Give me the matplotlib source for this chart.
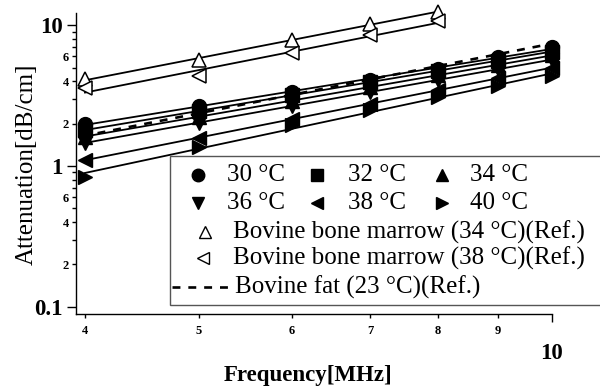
import numpy as np
import matplotlib
matplotlib.use("Agg")
import matplotlib.pyplot as plt
from matplotlib.lines import Line2D
from matplotlib.patches import Rectangle

plt.rcParams['font.family'] = ['Liberation Serif', 'DejaVu Serif']

# measured attenuation [dB/cm] vs frequency [MHz]
freq = [4, 5, 6, 7, 8, 9, 10]
att_30 = [1.99, 2.66, 3.38, 4.05, 4.90, 5.90, 7.00]
att_32 = [1.80, 2.46, 3.18, 3.94, 4.75, 5.60, 6.50]
att_34 = [1.62, 2.24, 2.91, 3.64, 4.42, 5.23, 6.10]
att_36 = [1.46, 2.03, 2.67, 3.35, 4.09, 4.87, 5.70]
att_38 = [1.10, 1.59, 2.15, 2.77, 3.46, 4.19, 5.00]
att_40 = [0.835, 1.36, 1.95, 2.50, 3.09, 3.69, 4.35]

# reference data
marrow_freq = [4, 5, 6, 7, 8]
marrow_34 = [4.15, 5.64, 7.83, 10.2, 12.5]
marrow_38 = [3.57, 4.35, 6.33, 8.5, 10.7]
fat_freq = [4.1, 10.0]
fat_att = [1.71, 7.4]

temps = ['30 °C', '32 °C', '34 °C', '36 °C', '38 °C', '40 °C']
series = [att_30, att_32, att_34, att_36, att_38, att_40]
markers = ['o', 's', '^', 'v', '<', '>']


def fit_line(f, a):
    # power-law fit drawn as straight line on log-log axes
    coef = np.polyfit(np.log10(f), np.log10(a), 1)
    fx = np.array([f[0], f[-1]], dtype=float)
    return fx, 10 ** np.polyval(coef, np.log10(fx))


W, H = 600, 387
fig = plt.figure(figsize=(W / 100, H / 100), dpi=100)
ax = fig.add_axes([76 / W, 1 - 314 / H, (560 - 76) / W, (314 - 13) / H])
ax.set_xscale('log')
ax.set_yscale('log')

for vals, m in zip(series, markers):
    fx, fy = fit_line(freq, vals)
    ax.plot(fx, fy, color='black', lw=1.3, zorder=2)
    ax.plot(freq, vals, linestyle='none', marker=m, ms=10, color='black',
            zorder=3, clip_on=False)

for vals, m in [(marrow_34, '^'), (marrow_38, '<')]:
    fx, fy = fit_line(marrow_freq, vals)
    ax.plot(fx, fy, color='black', lw=1.3, zorder=2, clip_on=False)
    ax.plot(marrow_freq, vals, linestyle='none', marker=m, ms=10.5,
            mfc='white', mec='black', mew=1.1, zorder=3, clip_on=False)

ax.plot(fat_freq, fat_att, color='black', lw=1.9, dashes=(3, 3), zorder=4,
        clip_on=False)

# ticks
ax.set_xticks([10], ['10'], fontsize=16.5, fontweight='bold')
ax.set_xticks([4, 5, 6, 7, 8, 9], ['4', '5', '6', '7', '8', '9'], minor=True,
              fontsize=9, fontweight='bold')
ax.set_yticks([0.1, 1, 10], ['0.1', '1', '10'], fontsize=16.5, fontweight='bold')
minor_y = [0.2, 0.3, 0.4, 0.5, 0.6, 0.7, 0.8, 0.9, 2, 3, 4, 5, 6, 7, 8, 9]
minor_lab = ['2', '', '4', '', '6', '', '', '', '2', '', '4', '', '6', '', '', '']
ax.set_yticks(minor_y, minor_lab, minor=True, fontsize=9, fontweight='bold')
ax.set_xlim(3.93, 10.16)
ax.set_ylim(0.089, 12.2)

ax.tick_params(axis='x', which='major', length=6, width=1, pad=15)
ax.tick_params(axis='x', which='minor', length=3, width=1, pad=5)
ax.tick_params(axis='y', which='major', length=6.5, width=1, pad=3)
ax.tick_params(axis='y', which='minor', length=3, width=1, pad=2)

ax.spines['top'].set_visible(False)
ax.spines['right'].set_visible(False)
ax.spines['bottom'].set_bounds(3.93, 10)
for s in ['left', 'bottom']:
    ax.spines[s].set_linewidth(1)

fig.text(27 / W, 1 - 164 / H, 'Attenuation[dB/cm]', rotation=90,
         ha='center', va='center', fontsize=18)
fig.text(308 / W, 1 - 375 / H, 'Frequency[MHz]', ha='center', va='center',
         fontsize=16.5, fontweight='bold')

# legend box, laid out by hand
def fx_(px):
    return px / W


def fy_(py):
    return 1 - py / H


fig.add_artist(Rectangle((fx_(170), fy_(305)), 1.0, (305 - 156) / H,
                         transform=fig.transFigure, facecolor='white',
                         edgecolor='#555555', lw=1, zorder=10))

leg_cols = [(198, 227), (317, 348), (442, 470)]
leg_rows = [175, 203]
for i, (lab, m) in enumerate(zip(temps, markers)):
    r, c = divmod(i, 3)
    mx, tx = leg_cols[c]
    y = leg_rows[r]
    fig.add_artist(Line2D([fx_(mx)], [fy_(y)], marker=m, ms=9, color='black',
                          linestyle='none', transform=fig.transFigure, zorder=11))
    fig.text(fx_(tx), fy_(y), lab, ha='left', va='center', fontsize=18, zorder=11)

ref_rows = [(205, 232, '^', 'Bovine bone marrow (34 °C)(Ref.)'),
            (203, 258, '<', 'Bovine bone marrow (38 °C)(Ref.)')]
for mx, y, m, lab in ref_rows:
    fig.add_artist(Line2D([fx_(mx)], [fy_(y)], marker=m, ms=9, mfc='white',
                          mec='black', mew=1, linestyle='none',
                          transform=fig.transFigure, zorder=11))
    fig.text(fx_(233), fy_(y), lab, ha='left', va='center', fontsize=18, zorder=11)

fig.add_artist(Line2D([fx_(172), fx_(228)], [fy_(287), fy_(287)], color='black',
                      lw=1.9, dashes=(3, 3), transform=fig.transFigure, zorder=11))
fig.text(fx_(235), fy_(287), 'Bovine fat (23 °C)(Ref.)', ha='left', va='center',
         fontsize=18, zorder=11)

fig.savefig('out.png', dpi=100)
